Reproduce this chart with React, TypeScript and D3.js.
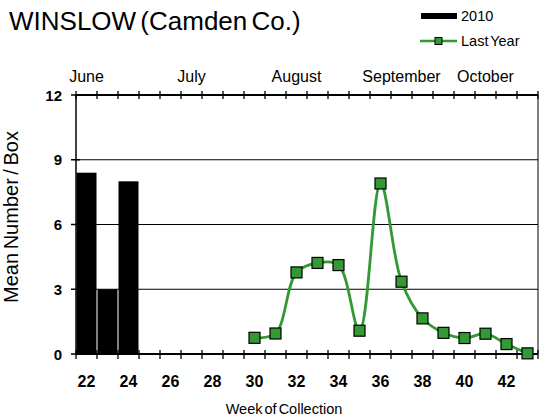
import React from "react";
import * as d3 from "d3";

const weeks = d3.range(22, 44);
const barWeeks = [22, 23, 24];
const barValues = [8.4, 3.0, 8.0];
const lineWeeks = [30, 31, 32, 33, 34, 35, 36, 37, 38, 39, 40, 41, 42, 43];
const lineValues = [0.75, 0.95, 3.78, 4.22, 4.12, 1.08, 7.9, 3.35, 1.65, 0.98, 0.74, 0.94, 0.46, 0.03];
const yTicks = [0, 3, 6, 9, 12];
const xTickLabels = [22, 24, 26, 28, 30, 32, 34, 36, 38, 40, 42];
const months = ["June", "July", "August", "September", "October"];
const monthWeeks = [22, 27, 32, 37, 41];

const W = 539, H = 419;
const L = 76, R = 538, T = 95, B = 354;
const GREEN = "#339933";
const FONT = "Arial, 'Liberation Sans', sans-serif";

export default function App() {
  const x = d3.scaleBand<number>().domain(weeks).range([L, R]).padding(0);
  const y = d3.scaleLinear().domain([0, 12]).range([B, T]);
  const cx = (w: number) => (x(w) as number) + x.bandwidth() / 2;
  const line = d3
    .line<number>()
    .x((_, i) => cx(lineWeeks[i]))
    .y((d) => y(d))
    .curve(d3.curveCatmullRom.alpha(0.5));
  const boundaries = weeks.map((w) => x(w) as number).concat([R]);
  const ms = 11;
  return (
    <svg width={W} height={H} style={{ position: "absolute", left: 0, top: 0 }} fontFamily={FONT}>
      <rect width={W} height={H} fill="#fff" />
      <text x={9} y={30} fontSize={26} wordSpacing={-3} fill="#000">WINSLOW (Camden Co.)</text>
      {/* legend */}
      <rect x={421} y={13} width={36} height={6} fill="#000" />
      <text x={461} y={21} fontSize={14.5}>2010</text>
      <line x1={420} x2={457} y1={41} y2={41} stroke={GREEN} strokeWidth={2.5} />
      <rect x={435} y={37.5} width={7} height={7} fill={GREEN} stroke="#000" strokeWidth={1} />
      <text x={461} y={46} fontSize={14.5} wordSpacing={-2}>Last Year</text>
      {/* gridlines */}
      {yTicks.filter((t) => t > 0).map((t) => (
        <line key={t} x1={L} x2={R} y1={y(t)} y2={y(t)} stroke="#000" strokeWidth={1} />
      ))}
      <line x1={R} x2={R} y1={T} y2={B} stroke="#000" strokeWidth={1} />
      {/* bars */}
      {barWeeks.map((w, i) => (
        <rect key={w} x={(x(w) as number) + 0.5} y={y(barValues[i])} width={x.bandwidth() - 1} height={B - y(barValues[i])} fill="#000" />
      ))}
      {/* axes */}
      <line x1={L} x2={L} y1={T} y2={B} stroke="#000" strokeWidth={1.5} />
      <line x1={L} x2={R} y1={B} y2={B} stroke="#000" strokeWidth={2} />
      <line x1={L} x2={R} y1={T} y2={T} stroke="#000" strokeWidth={2} />
      {yTicks.map((t) => (
        <g key={t}>
          <line x1={L - 5} x2={L + 4} y1={y(t)} y2={y(t)} stroke="#000" strokeWidth={1.5} />
          <text x={L - 14} y={y(t) + 5.5} fontSize={15} fontWeight="bold" textAnchor="end">{t}</text>
        </g>
      ))}
      {boundaries.map((b, i) => (
        <g key={i}>
          <line x1={b} x2={b} y1={B - 4} y2={B + 5} stroke="#000" strokeWidth={1.3} />
          <line x1={b} x2={b} y1={T - 4} y2={T + 4} stroke="#000" strokeWidth={1.3} />
        </g>
      ))}
      {xTickLabels.map((w) => (
        <text key={w} x={cx(w)} y={387} fontSize={16} fontWeight="bold" textAnchor="middle">{w}</text>
      ))}
      {months.map((m, i) => (
        <text key={m} x={cx(monthWeeks[i])} y={82} fontSize={16} textAnchor="middle">{m}</text>
      ))}
      {/* line */}
      <path d={line(lineValues) || ""} fill="none" stroke={GREEN} strokeWidth={2.8} />
      {lineValues.map((v, i) => (
        <rect key={i} x={cx(lineWeeks[i]) - ms / 2} y={y(v) - ms / 2} width={ms} height={ms} fill={GREEN} stroke="#000" strokeWidth={1.2} />
      ))}
      <text x={284} y={414} fontSize={14.5} wordSpacing={-2} textAnchor="middle">Week of Collection</text>
      <text transform={`translate(18,217) rotate(-90)`} fontSize={20} wordSpacing={-2} textAnchor="middle">Mean Number / Box</text>
    </svg>
  );
}
